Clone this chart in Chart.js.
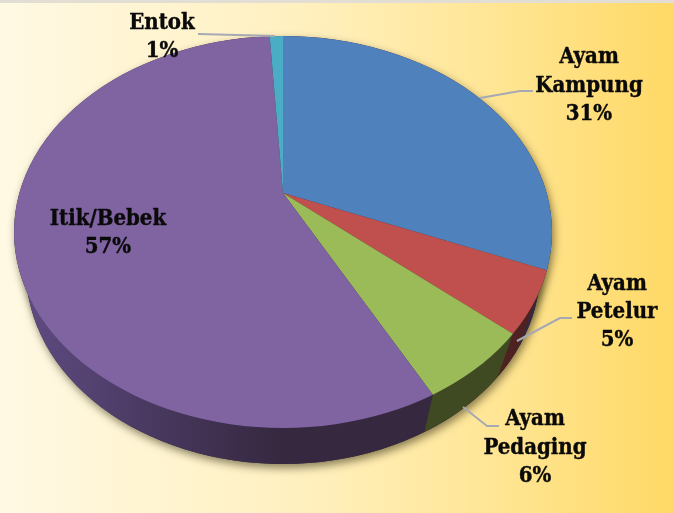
<!DOCTYPE html>
<html><head><meta charset="utf-8">
<style>html,body{margin:0;padding:0;width:674px;height:513px;overflow:hidden}canvas{display:block}</style>
<script src="https://cdn.jsdelivr.net/npm/chart.js@4"></script></head>
<body><canvas id="c" width="674" height="513"></canvas>
<script>
const categories = ["Ayam Kampung", "Ayam Petelur", "Ayam Pedaging", "Itik/Bebek", "Entok"];
const values = [31, 5, 6, 57, 1];
const faceColors = ["#4f81bd", "#c0504d", "#9bbb59", "#8064a2", "#4bacc6"];
const wallColors = ["#2b4566", "#4f2222", "#3f4a22", "#35283f", "#27586a"];

const APEX = {x: 283, y: 193}, FACE_SY = 0.74, SCALE = 1.5;
const VANISH = {x: 327, y: 861};
const FACE = {x: 283, y: 232, rx: 269, ry: 196};
const WALL = {x: 283, y: 270, rx: 257, ry: 194};
const LABELS = [
  {x: 589, ys: [57, 86, 114], lines: ["Ayam", "Kampung"], leader: [[480,98],[520,91],[533,91]]},
  {x: 617, ys: [284, 312, 340], lines: ["Ayam", "Petelur"], leader: [[517,341],[560,318],[572,318]]},
  {x: 535, ys: [419, 448, 476], lines: ["Ayam", "Pedaging"], leader: [[463,407],[487,426],[499,426]]},
  {x: 108, ys: [219, 247], lines: ["Itik/Bebek"], leader: null},
  {x: 162, ys: [23, 51], lines: ["Entok"], leader: [[198,34],[275,36]]}
];

function ellipsePath(ctx, e){ ctx.beginPath(); ctx.ellipse(e.x, e.y, e.rx, e.ry, 0, 0, Math.PI*2); }

// Where a slice edge at the given angle meets the rim of the tilted top face.
function rimPoint(angle){
  const dx = Math.cos(angle), dy = Math.sin(angle)*FACE_SY;
  const ox = APEX.x-FACE.x, oy = APEX.y-FACE.y;
  const A = dx*dx/(FACE.rx*FACE.rx)+dy*dy/(FACE.ry*FACE.ry);
  const B = 2*(ox*dx/(FACE.rx*FACE.rx)+oy*dy/(FACE.ry*FACE.ry));
  const C = ox*ox/(FACE.rx*FACE.rx)+oy*oy/(FACE.ry*FACE.ry)-1;
  const t = (-B+Math.sqrt(B*B-4*A*C))/(2*A);
  return {x: APEX.x+dx*t, y: APEX.y+dy*t};
}
function beyond(p){ return {x: VANISH.x+(p.x-VANISH.x)*1.6, y: VANISH.y+(p.y-VANISH.y)*1.6}; }

const pseudo3d = {
  id: 'pseudo3d',
  beforeDraw(chart){
    const ctx = chart.ctx, W = chart.width, H = chart.height;
    ctx.save();
    const g = ctx.createLinearGradient(0,0,W,0);
    g.addColorStop(0, '#fff9e4'); g.addColorStop(0.45, '#fff0bf');
    g.addColorStop(0.75, '#ffe592'); g.addColorStop(1, '#ffd966');
    ctx.fillStyle = g; ctx.fillRect(0,0,W,H);
    ctx.fillStyle = '#e2ded3'; ctx.fillRect(0,0,W,3);
    ctx.restore();
  },
  beforeDatasetsDraw(chart){
    const ctx = chart.ctx, arcs = chart.getDatasetMeta(0).data;
    // soft shadow
    ctx.save();
    ctx.shadowColor = 'rgba(40,35,10,0.55)'; ctx.shadowBlur = 9; ctx.shadowOffsetY = 4; ctx.shadowOffsetX = 2;
    ctx.fillStyle = '#35283f';
    ellipsePath(ctx, WALL); ctx.fill();
    ellipsePath(ctx, FACE); ctx.fill();
    ctx.restore();
    // side wall: largest slice as base, then slices whose rim lies on the front
    ctx.save();
    ellipsePath(ctx, WALL); ctx.clip();
    const g = ctx.createLinearGradient(30,0,283,0);
    g.addColorStop(0,'#5e4a80'); g.addColorStop(0.45,'#4a3a62'); g.addColorStop(1,wallColors[3]);
    ctx.fillStyle = g;
    ctx.fillRect(0,0,chart.width,chart.height);
    arcs.forEach((a,i)=>{
      if (i === 3) return;
      if (Math.sin(a.startAngle) <= 0 || Math.sin(a.endAngle) <= 0) return;
      const p = beyond(rimPoint(a.startAngle)), q = beyond(rimPoint(a.endAngle));
      ctx.beginPath(); ctx.moveTo(VANISH.x,VANISH.y); ctx.lineTo(p.x,p.y); ctx.lineTo(q.x,q.y); ctx.closePath();
      ctx.fillStyle = wallColors[i]; ctx.fill();
    });
    ctx.restore();
    // top face: library arcs, projected
    const a0 = arcs[0];
    ctx.save();
    ellipsePath(ctx, FACE); ctx.clip();
    ctx.translate(APEX.x, APEX.y);
    ctx.scale(SCALE, SCALE*FACE_SY);
    ctx.translate(-a0.x, -a0.y);
  },
  afterDatasetsDraw(chart){
    const ctx = chart.ctx;
    ctx.restore();
    ctx.save();
    ctx.strokeStyle = '#a6a9b4'; ctx.lineWidth = 2; ctx.lineJoin = 'round';
    LABELS.forEach(l=>{
      if(!l.leader) return;
      ctx.beginPath();
      l.leader.forEach((p,i)=> i ? ctx.lineTo(p[0],p[1]) : ctx.moveTo(p[0],p[1]));
      ctx.stroke();
    });
    ctx.fillStyle = '#0a0a0a'; ctx.strokeStyle = '#0a0a0a'; ctx.lineWidth = 0.4;
    ctx.font = 'bold 22px "DejaVu Serif Condensed","DejaVu Serif",serif';
    ctx.textAlign = 'center'; ctx.textBaseline = 'middle';
    LABELS.forEach((l,i)=>{
      const lines = [...l.lines, values[i] + '%'];
      lines.forEach((t,j)=>{ ctx.fillText(t, l.x, l.ys[j]); ctx.strokeText(t, l.x, l.ys[j]); });
    });
    ctx.restore();
  }
};

new Chart(document.getElementById('c'), {
  type: 'pie',
  data: { labels: categories, datasets: [{ data: values, backgroundColor: faceColors, borderWidth: 0, clip: false }] },
  options: {
    responsive: false, animation: false,
    layout: { padding: 0 },
    plugins: { legend: {display:false}, tooltip: {enabled:false} },
    events: []
  },
  plugins: [pseudo3d]
});
</script></body></html>
